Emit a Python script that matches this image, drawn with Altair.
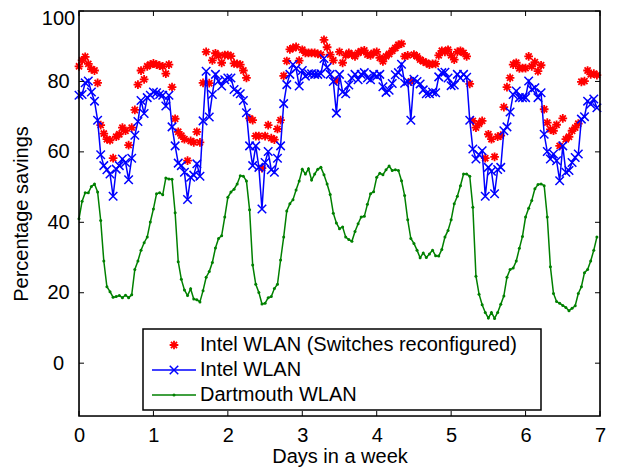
import altair as alt
import pandas as pd

# hourly samples over one week
hours = list(range(168))

intel_reconf = [
    84.3, 86.0, 87.0, 85.0, 83.5, 83.1, 79.6, 67.6, 65.2, 63.6, 63.3, 58.2, 64.3, 65.0, 66.9, 66.0,
    61.9, 66.9, 71.9, 79.1, 83.1, 80.6, 84.3, 84.8, 85.1, 84.8, 84.5, 84.3, 82.2, 84.8, 78.4, 69.4,
    65.7, 64.6, 63.6, 57.5, 63.1, 62.7, 65.7, 62.7, 79.6, 88.4, 79.5,
    86.0, 88.0, 87.3, 85.3, 87.5, 87.5, 87.2, 85.1, 85.0, 84.8, 83.1, 81.0, 69.5, 69.0, 64.5, 64.5,
    55.4, 64.5, 67.6, 63.9, 63.5, 66.5, 69.0, 81.6, 85.8, 89.1, 89.5, 89.8, 85.9, 89.0, 88.1, 88.1,
    88.1, 88.1, 87.8, 87.6, 91.8, 89.7, 87.6, 86.0, 80.2,
    88.4, 85.3, 87.4, 88.1, 87.6, 87.1, 88.1, 88.6, 88.8, 87.6, 87.4, 88.1, 88.4, 86.7, 85.7, 87.1,
    87.8, 88.7, 89.5, 90.4, 90.7, 87.1, 87.4, 80.0, 87.6, 87.1, 86.2, 85.7, 85.3, 84.8, 85.0, 85.0,
    87.4, 88.7, 88.4, 89.0, 87.4, 86.2, 88.4, 88.7, 88.1, 87.1, 79.3,
    68.8, 66.9, 68.0, 68.8, 58.2, 65.0, 63.6, 58.6, 64.3, 64.6, 72.7, 78.4, 81.0, 84.8, 85.3, 83.7,
    83.8, 83.8, 87.1, 84.3, 85.5, 82.9, 84.6, 72.1, 68.3, 66.4, 66.0, 67.7, 61.7, 69.5, 63.6, 64.3,
    66.0, 66.9, 68.0, 79.9, 80.1, 83.1, 82.0, 82.2, 81.8,
]

intel = [
    76.1, 76.3, 79.6, 80.1, 77.0, 74.4, 69.0, 59.2, 56.1, 54.9, 53.7, 47.4, 55.1, 56.1, 58.0, 57.0,
    52.1, 58.2, 64.7, 68.6, 74.6, 70.9, 75.4, 76.1, 77.0, 76.8, 76.3, 76.1, 73.0, 76.1, 67.1, 61.7,
    56.8, 56.1, 54.2, 46.5, 52.8, 53.4, 56.6, 53.1, 68.8,
    82.9, 69.9, 76.3, 82.0, 80.1, 78.7, 80.5, 81.0, 81.0, 77.7, 77.0, 76.5, 74.6, 71.1, 61.7, 56.1,
    61.7, 55.6, 43.8, 57.0, 60.1, 54.9, 54.2, 58.2, 61.7, 73.7, 79.1, 82.0, 84.8, 83.7, 78.7, 83.1,
    81.5, 82.2, 82.2, 82.0, 82.0, 82.2, 86.5, 84.0, 82.0, 80.0, 71.0,
    82.0, 77.0, 76.5, 79.0, 81.0, 82.0, 80.5, 82.0, 82.5, 81.0, 80.5, 82.0, 81.5, 82.0, 78.5, 76.9,
    77.5, 79.4, 81.9, 82.5, 84.9, 79.5, 80.0, 69.0, 80.6, 80.0, 79.3, 77.6, 76.5, 76.5, 77.0, 76.8,
    81.3, 82.5, 82.6, 81.0, 78.8, 79.0, 82.0, 81.0, 82.0, 81.2,
    69.0, 60.8, 58.0, 59.2, 60.3, 47.4, 55.6, 54.5, 48.1, 55.0, 55.6, 66.0, 67.1, 71.3, 76.3, 77.3,
    75.4, 75.4, 75.4, 80.1, 77.7, 78.2, 75.4, 76.8, 65.0, 60.1, 58.0, 59.4, 57.5, 51.8, 61.7, 54.2,
    54.7, 57.0, 58.4, 59.4, 69.3, 70.0, 74.4, 73.5, 75.0, 72.5,
]

dartmouth = [
    41.0, 46.0, 48.4, 48.4, 50.2, 50.9, 48.6, 40.5, 29.0, 21.7, 20.3, 18.7, 18.9, 19.2, 18.6, 19.3,
    18.6, 19.4, 26.6, 29.0, 32.1, 34.2, 35.8, 40.1, 43.8, 48.1, 48.4, 47.8, 52.6, 52.3, 52.2, 42.7,
    28.8, 23.8, 20.8, 19.2, 21.1, 18.2, 18.0, 17.4, 20.6, 24.4,
    26.0, 28.6, 32.7, 35.4, 36.2, 41.5, 47.1, 48.6, 49.4, 50.9, 53.2, 53.1, 51.7, 43.6, 27.9, 22.4,
    20.1, 16.8, 17.0, 18.6, 18.9, 21.2, 22.4, 29.3, 35.8, 43.2, 45.3, 46.4, 49.2, 51.7, 55.1, 53.7,
    55.2, 52.0, 53.7, 55.1, 55.6, 53.5, 50.9, 47.9, 42.6, 39.8, 38.2,
    38.7, 35.8, 35.1, 34.6, 37.4, 39.6, 41.5, 41.7, 45.1, 48.1, 48.7, 52.8, 53.9, 53.5, 54.9, 56.0,
    54.7, 54.9, 54.7, 51.8, 47.6, 40.7, 35.4, 34.0, 32.1, 29.9, 31.3, 30.0, 31.0, 32.1, 30.5, 30.4,
    32.3, 35.8, 37.7, 40.7, 45.3, 47.4, 50.4, 53.7, 53.7, 53.1,
    44.3, 24.7, 19.6, 16.6, 14.4, 12.8, 14.4, 12.7, 14.4, 16.7, 19.1, 24.4, 26.6, 27.0, 29.0, 32.6,
    36.0, 41.5, 44.0, 46.2, 49.5, 50.7, 50.9, 50.4, 41.5, 27.4, 19.8, 17.5, 17.0, 16.4, 15.8, 14.9,
    15.6, 16.3, 19.8, 21.7, 25.7, 26.6, 29.0, 32.1, 35.8,
]

x_ticks = [0, 1, 2, 3, 4, 5, 6, 7]
y_ticks = [0, 20, 40, 60, 80, 100]
legend_labels = ["Intel WLAN (Switches reconfigured)", "Intel WLAN", "Dartmouth WLAN"]

df = pd.DataFrame({
    "day": [h / 24 for h in hours],
    "reconf": intel_reconf,
    "intel": intel,
    "dart": dartmouth,
})

W, H = 521, 405
FONT = "Liberation Sans"
FS = 20
RED, BLUE, GREEN = "#ff0000", "#0000ff", "#008000"
STAR = "M-1,0L1,0M0,-1L0,1M-0.7,-0.7L0.7,0.7M-0.7,0.7L0.7,-0.7"
XMARK = "M-1,-1L1,1M-1,1L1,-1"

xs = alt.Scale(domain=[0, 7], nice=False, zero=False)
ys = alt.Scale(domain=[-15, 100], nice=False, zero=False)

x_axis = alt.Axis(values=x_ticks, ticks=False, tickSize=0, domain=False, grid=False,
                  labelFont=FONT, labelFontSize=FS, labelColor="black", labelPadding=9,
                  labelFlush=False, title="Days in a week", titleFont=FONT, titleFontSize=FS,
                  titleFontWeight="normal", titleColor="black", titlePadding=1)
y_axis = alt.Axis(values=y_ticks, ticks=False, tickSize=0, domain=False, grid=False,
                  labelFont=FONT, labelFontSize=FS, labelColor="black", labelAlign="center",
                  labelBaseline="middle", labelPadding=21, labelFlush=False,
                  labelOffset={"condition": {"test": "datum.value === 100", "value": 7}, "value": 0},
                  title="Percentage savings", titleFont=FONT, titleFontSize=FS,
                  titleFontWeight="normal", titleColor="black", titlePadding=10)

X = lambda f: alt.X(f, scale=xs, axis=x_axis)
Y = lambda f: alt.Y(f, scale=ys, axis=y_axis)

base = alt.Chart(df)

red_pts = base.mark_point(shape=STAR, size=76, strokeWidth=1.8, filled=False, color=RED, opacity=1).encode(
    x=X("day:Q"), y=Y("reconf:Q"))
blue_line = base.mark_line(color=BLUE, strokeWidth=1.5).encode(x=X("day:Q"), y=Y("intel:Q"))
blue_pts = base.mark_point(shape=XMARK, size=72, strokeWidth=1.5, filled=False, color=BLUE, opacity=1).encode(
    x=X("day:Q"), y=Y("intel:Q"))
green_line = base.mark_line(color=GREEN, strokeWidth=1.5).encode(x=X("day:Q"), y=Y("dart:Q"))
green_pts = base.mark_point(shape="circle", size=9, filled=True, color=GREEN, opacity=1).encode(
    x=X("day:Q"), y=Y("dart:Q"))

ydf = pd.DataFrame({"v": y_ticks})
xdf = pd.DataFrame({"v": x_ticks})
tick_l = alt.Chart(ydf).mark_rule(color="black", strokeWidth=1).encode(
    y=Y("v:Q"), x=alt.value(0), x2=alt.value(5))
tick_r = alt.Chart(ydf).mark_rule(color="black", strokeWidth=1).encode(
    y=Y("v:Q"), x=alt.value(W - 5), x2=alt.value(W))
tick_b = alt.Chart(xdf).mark_rule(color="black", strokeWidth=1).encode(
    x=X("v:Q"), y=alt.value(H - 5), y2=alt.value(H))
tick_t = alt.Chart(xdf).mark_rule(color="black", strokeWidth=1).encode(
    x=X("v:Q"), y=alt.value(0), y2=alt.value(5))

one = alt.Chart(pd.DataFrame({"k": [0]}))
frame = one.mark_rect(fill=None, filled=False, stroke="black", strokeWidth=1.6).encode(
    x=alt.value(0), x2=alt.value(W), y=alt.value(0), y2=alt.value(H))
leg_box = one.mark_rect(fill="white", stroke="black", strokeWidth=1.5).encode(
    x=alt.value(64), x2=alt.value(462), y=alt.value(318), y2=alt.value(399))
rows = [334, 359, 384]
leg_layers = [leg_box]
leg_layers.append(one.mark_point(shape=STAR, size=76, strokeWidth=1.8, filled=False, color=RED, opacity=1).encode(
    x=alt.value(95), y=alt.value(rows[0])))
leg_layers.append(one.mark_rule(color=BLUE, strokeWidth=1.5).encode(
    x=alt.value(73), x2=alt.value(117), y=alt.value(rows[1])))
leg_layers.append(one.mark_point(shape=XMARK, size=72, strokeWidth=1.5, filled=False, color=BLUE, opacity=1).encode(
    x=alt.value(95), y=alt.value(rows[1])))
leg_layers.append(one.mark_rule(color=GREEN, strokeWidth=1.5).encode(
    x=alt.value(73), x2=alt.value(117), y=alt.value(rows[2])))
leg_layers.append(one.mark_point(shape="circle", size=9, filled=True, color=GREEN, opacity=1).encode(
    x=alt.value(95), y=alt.value(rows[2])))
for lab, ry in zip(legend_labels, rows):
    leg_layers.append(one.mark_text(align="left", baseline="middle", font=FONT, fontSize=FS,
                                    color="black").encode(
        x=alt.value(121), y=alt.value(ry), text=alt.value(lab)))

chart = alt.layer(
    red_pts, blue_line, blue_pts, green_line, green_pts,
    tick_l, tick_r, tick_b, tick_t, frame, *leg_layers
).properties(
    width=W, height=H,
    padding={"left": 71, "top": 3, "right": 12, "bottom": 51},
    autosize=alt.AutoSizeParams(type="none"),
).configure_view(stroke=None).configure(background="white")

chart.save("out.html", embed_options={"renderer": "svg", "actions": False})
